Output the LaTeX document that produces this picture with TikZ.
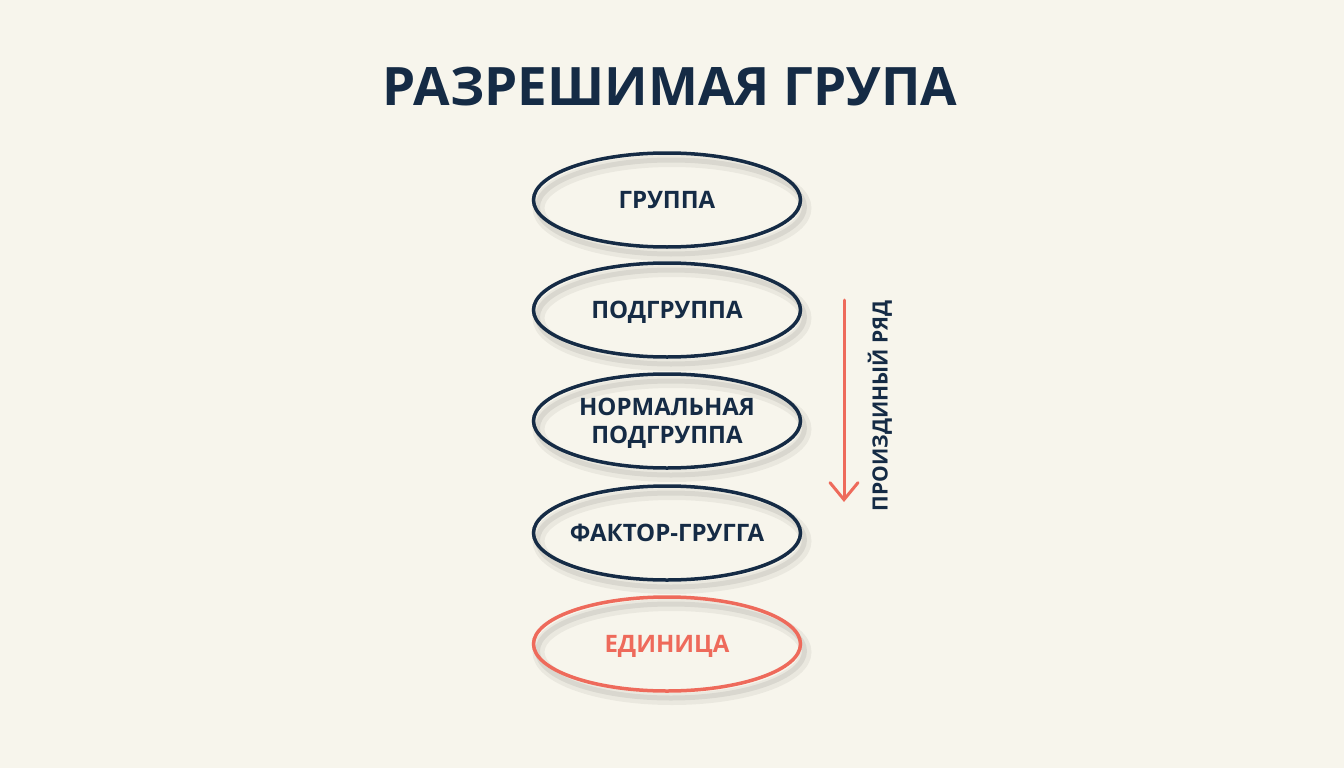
\documentclass[tikz,border=0pt]{standalone}
\usepackage{fontspec}
\setmainfont{Open Sans}
\usepackage{xcolor}
\usetikzlibrary{arrows.meta, shadows, shapes.geometric}

\definecolor{paper}{HTML}{F7F5EC}
\definecolor{navy}{HTML}{152B45}
\definecolor{salmon}{HTML}{EE6A5B}

\tikzset{
  ring/.style={ellipse, draw=navy, line width=3.5pt, minimum width=267pt, minimum height=94pt,
    inner ysep=0pt, inner xsep=-40pt, text=navy, font=\bfseries\fontsize{24}{28}\selectfont, align=center,
    text height=17pt, text depth=0pt,
    drop shadow={draw=black, fill=none, line width=12pt, opacity=0.05, shadow xshift=5pt, shadow yshift=-8pt},
    drop shadow={draw=black, fill=none, line width=5pt, opacity=0.07, shadow xshift=4pt, shadow yshift=-7pt}},
  redring/.style={ring, draw=salmon, text=salmon}
}

\begin{document}
\begin{tikzpicture}[x=1pt, y=-1pt]
\fill[paper] (0,0) rectangle (1344,768);
\useasboundingbox (0,0) rectangle (1344,768);
% title
\node[anchor=base, text=navy, font=\bfseries\fontsize{53}{58}\selectfont] (title) at (670,106) {РАЗРЕШИМАЯ ГРУПА};
% chain of groups
\node[ring] (grp) at (667,200) {ГРУППА};
\node[ring] (sub) at (667,310) {ПОДГРУППА};
\node[ring, text height=45pt] (norm) at (667,421) {НОРМАЛЬНАЯ\\ПОДГРУППА};
\node[ring] (quot) at (667,533) {ФАКТОР-ГРУГГА};
\node[redring] (unit) at (667,644) {ЕДИНИЦА};
% series arrow
\coordinate (top) at (844,300);
\coordinate (bot) at (844,502);
\draw[salmon, line width=3pt, line cap=round, -{Straight Barb[length=17pt, width=28pt, line cap=round]}] (top) -- (bot);
\node[rotate=90, text=navy, font=\bfseries\fontsize{21}{24}\selectfont, text height=15pt, text depth=0pt] (series) at (880,406) {ПРОИЗДИНЫЙ РЯД};
\end{tikzpicture}
\end{document}
